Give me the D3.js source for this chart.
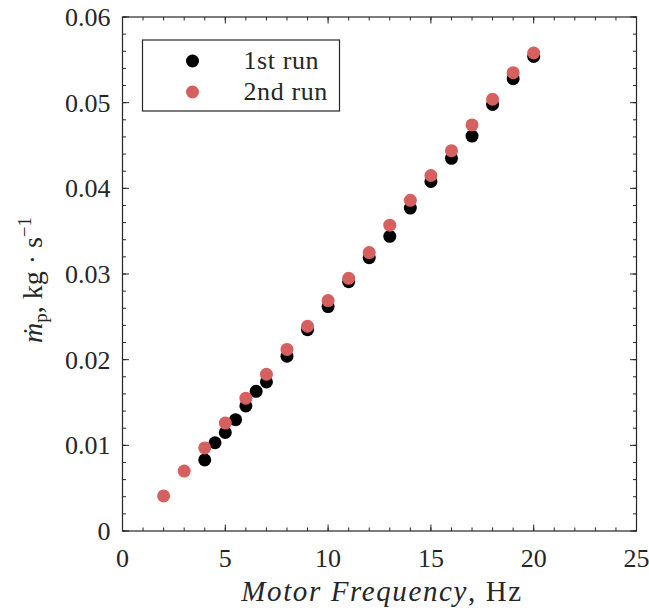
<!DOCTYPE html>
<html>
<head>
<meta charset="utf-8">
<script src="https://cdn.jsdelivr.net/npm/d3@7"></script>
<style>
  body { margin: 0; background: #fff; }
  svg text { font-family: "Liberation Serif", "DejaVu Serif", serif; fill: #262626; }
</style>
</head>
<body>
<svg id="chart"></svg>
<script>
// Chart data
const seriesNames = ["1st run", "2nd run"];
const freqRun1 = [4, 4.5, 5, 5.5, 6, 6.5, 7, 8, 9, 10, 11, 12, 13, 14, 15, 16, 17, 18, 19, 20];
const flowRun1 = [0.0083, 0.0103, 0.0115, 0.0130, 0.0146, 0.0163, 0.0174, 0.0204, 0.0235, 0.0262,
  0.0291, 0.0319, 0.0344, 0.0377, 0.0408, 0.0435, 0.0461, 0.0498, 0.0528, 0.0554];
const freqRun2 = [2, 3, 4, 5, 6, 7, 8, 9, 10, 11, 12, 13, 14, 15, 16, 17, 18, 19, 20];
const flowRun2 = [0.0041, 0.0070, 0.0097, 0.0126, 0.0155, 0.0183, 0.0212, 0.0239, 0.0269, 0.0295,
  0.0325, 0.0357, 0.0386, 0.0415, 0.0444, 0.0474, 0.0504, 0.0535, 0.0558];
const xTicks = [0, 5, 10, 15, 20, 25];
const yTicks = [0, 0.01, 0.02, 0.03, 0.04, 0.05, 0.06];

const W = 649, H = 612;
const margin = { top: 17, right: 12.5, bottom: 81, left: 122.5 };
const width = W - margin.left - margin.right;
const height = H - margin.top - margin.bottom;
const colors = ["#000000", "#d65f5f"];
const axisColor = "#262626";

const svg = d3.select("#chart").attr("width", W).attr("height", H);
const g = svg.append("g").attr("transform", `translate(${margin.left},${margin.top})`);

const x = d3.scaleLinear().domain([0, 25]).range([0, width]);
const y = d3.scaleLinear().domain([0, 0.06]).range([height, 0]);

// minor + major ticks, pointing inward on all four sides
const xMinor = d3.range(0, 25.001, 1);
const yMinor = d3.range(0, 0.06001, 0.002);
function tickMarks(vals, scale, len, horiz) {
  vals.forEach((v) => {
    if (horiz) {
      const px = scale(v);
      g.append("line").attr("x1", px).attr("x2", px).attr("y1", height).attr("y2", height - len)
        .attr("stroke", axisColor);
      g.append("line").attr("x1", px).attr("x2", px).attr("y1", 0).attr("y2", len)
        .attr("stroke", axisColor);
    } else {
      const py = scale(v);
      g.append("line").attr("x1", 0).attr("x2", len).attr("y1", py).attr("y2", py)
        .attr("stroke", axisColor);
      g.append("line").attr("x1", width).attr("x2", width - len).attr("y1", py).attr("y2", py)
        .attr("stroke", axisColor);
    }
  });
}
tickMarks(xMinor, x, 3.5, true);
tickMarks(xTicks, x, 6.5, true);
tickMarks(yMinor, y, 3.5, false);
tickMarks(yTicks, y, 6.5, false);

g.append("rect").attr("width", width).attr("height", height)
  .attr("fill", "none").attr("stroke", axisColor).attr("stroke-width", 1.2);

// tick labels
g.selectAll(".xl").data(xTicks).enter().append("text")
  .attr("x", (d) => x(d)).attr("y", height + 36)
  .attr("text-anchor", "middle").attr("font-size", 26)
  .text((d) => d);
g.selectAll(".yl").data(yTicks).enter().append("text")
  .attr("x", -12).attr("y", (d) => y(d) + 9)
  .attr("text-anchor", "end").attr("font-size", 26)
  .text((d) => (d === 0 ? "0" : d.toFixed(2)));

// points
const run1 = freqRun1.map((f, i) => ({ f, v: flowRun1[i] }));
const run2 = freqRun2.map((f, i) => ({ f, v: flowRun2[i] }));
[run1, run2].forEach((pts, k) => {
  g.append("g").selectAll("circle").data(pts).enter().append("circle")
    .attr("cx", (d) => x(d.f)).attr("cy", (d) => y(d.v))
    .attr("r", 6.5).attr("fill", colors[k]);
});

// legend
const leg = g.append("g").attr("transform", "translate(20,23)");
leg.append("rect").attr("width", 197).attr("height", 71)
  .attr("fill", "#fff").attr("stroke", axisColor).attr("stroke-width", 1.2);
seriesNames.forEach((name, i) => {
  leg.append("circle").attr("cx", 50).attr("cy", 21 + i * 31).attr("r", 6.5).attr("fill", colors[i]);
  leg.append("text").attr("x", 101).attr("y", 29 + i * 31).attr("font-size", 26)
    .attr("letter-spacing", 0.6).text(name);
});

// axis labels
const xl = svg.append("text").attr("x", 382).attr("y", 601)
  .attr("text-anchor", "middle").attr("font-size", 29).attr("letter-spacing", 1.6);
xl.append("tspan").attr("font-style", "italic").text("Motor Frequency");
xl.append("tspan").text(", Hz");

const yl = svg.append("text").attr("transform", "translate(42,280) rotate(-90)")
  .attr("text-anchor", "middle").attr("font-size", 28);
yl.append("tspan").attr("font-style", "italic").text("ṁ");
yl.append("tspan").attr("font-size", 19).attr("dy", 5).text("p");
yl.append("tspan").attr("dy", -5).text(", kg · s");
yl.append("tspan").attr("font-size", 19).attr("dy", -11).text("−1");
</script>
</body>
</html>
